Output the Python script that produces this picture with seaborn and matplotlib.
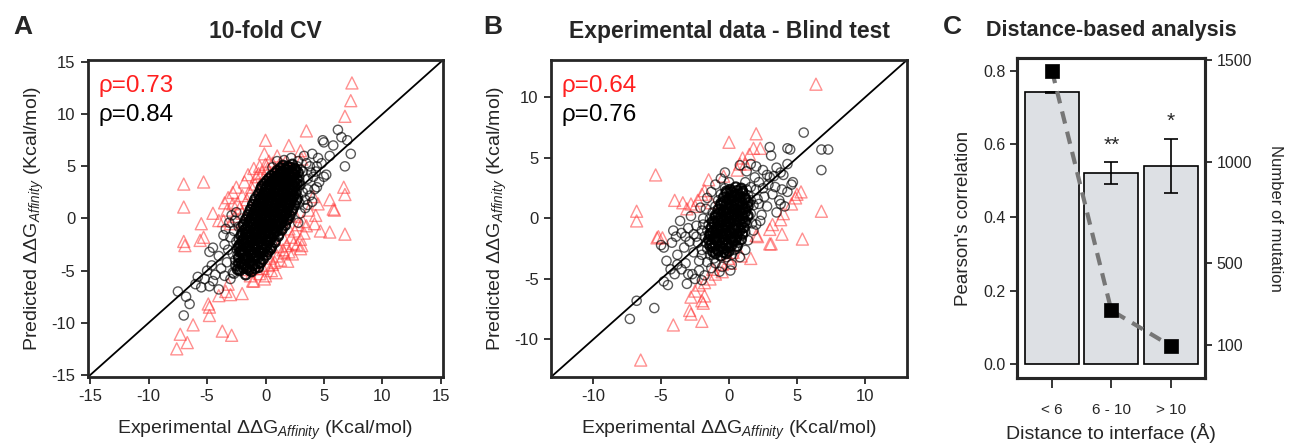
import numpy as np
import pandas as pd
import seaborn as sns
import matplotlib.pyplot as plt

# panel A - 10-fold CV, black = all, red = outliers
a_black = [
    (-7.5, -7.0), (-7.0, -9.3), (-6.5, -8.2), (-6.8, -7.5), (-6.0, -6.3), (-5.5, -6.6), (-5.2, -5.8),
    (-4.8, -6.5), (-4.5, -6.0), (-4.3, -5.4), (-4.0, -6.8), (-5.8, -5.6), (-5.0, -5.0), (-4.6, -4.5),
    (-4.8, -3.2), (-4.5, -2.8), (-4.0, -3.6), (-3.8, -4.8), (-3.5, -5.5), (-3.3, -4.2), (-3.2, -3.0),
    (-3.5, -2.5), (-3.0, -5.8), (-2.8, -5.2), (-2.6, -4.5), (-2.8, -3.4), (-3.0, -1.8), (-2.5, -2.2),
    (-2.7, -1.2), (-2.3, -0.8), (-3.4, -1.0), (-3.1, -0.4), (-2.9, 0.3), (-2.5, 0.6), (-3.6, -1.6),
    (-2.6, -0.2),
    (7.3, 6.2), (7.0, 7.5), (6.8, 5.0), (6.5, 7.8), (6.2, 8.5), (5.8, 7.0), (5.5, 6.0), (5.0, 7.3),
    (4.9, 7.5), (5.2, 4.2), (4.8, 5.3), (4.5, 5.8), (4.3, 4.5), (4.0, 6.2), (3.8, 5.0), (3.6, 3.8),
    (3.5, 5.3), (3.2, 4.5), (3.0, 3.2), (4.6, 3.5), (4.2, 2.8), (3.8, 2.2), (3.4, 1.8), (5.0, 4.0),
    (4.4, 3.0), (2.8, 5.5), (3.3, 6.0), (2.6, 4.8), (3.6, 2.8), (2.9, 1.5), (3.2, 2.5),
    (3.0, 0.5), (3.4, 1.0), (2.8, -0.4), (3.6, 1.3), (4.0, 1.6), (4.1, 4.0), (4.4, 5.0), (3.9, 4.4),
    (1.0, 5.5), (1.6, 5.6), (2.2, 5.8), (0.6, 4.9),
    (-2.7, -5.3), (-2.5, -4.6), (-2.6, -4.0), (-2.4, -3.5), (-2.5, -2.9), (-2.3, -1.9), (-2.1, -0.8),
    (-1.8, -0.4), (-1.6, 0.1), (-1.4, 0.6), (-1.2, 1.1), (-1.0, 1.6), (-0.8, 2.1), (-0.5, 2.6),
    (2.8, 2.0), (2.7, 2.7), (2.9, 3.2), (2.9, 3.6), (2.9, 4.0), (3.0, 4.7), (2.7, 5.0), (2.6, 1.5),
    (2.4, 1.0), (2.2, 0.6), (2.0, 0.0), (1.8, -0.2), (1.5, -0.9), (1.2, -1.5), (0.9, -2.1), (0.6, -2.6),
]
# solid centre of the cloud (hundreds of overlapping circles)
a_core = [
    (-2.2, -5.0), (-1.7, -5.4), (-1.2, -5.1),
    (-2.0, -4.4), (-1.6, -4.8), (-1.1, -4.5), (-0.6, -4.7),
    (-2.1, -4.2), (-1.7, -3.9), (-1.3, -4.1), (-0.9, -3.8), (-0.4, -4.2),
    (-2.0, -3.3), (-1.6, -3.6), (-1.2, -3.4), (-0.8, -3.6), (-0.4, -3.3), (0.1, -3.5),
    (-2.1, -3.1), (-1.7, -2.8), (-1.3, -3.0), (-0.9, -2.8), (-0.5, -3.1), (-0.1, -2.9), (0.4, -3.0),
    (-2.2, -2.5), (-1.8, -2.3), (-1.4, -2.6), (-1.0, -2.4), (-0.6, -2.2), (-0.2, -2.5), (0.2, -2.3),
    (-1.9, -2.0), (-1.5, -1.8), (-1.1, -2.1), (-0.7, -1.9), (-0.3, -1.7), (0.1, -2.0), (0.5, -1.8),
    (-2.0, -1.4), (-1.6, -1.3), (-1.2, -1.5), (-0.8, -1.3), (-0.4, -1.5), (0.0, -1.3), (0.4, -1.4), (0.8, -1.2),
    (-1.7, -1.0), (-1.3, -0.8), (-0.9, -1.0), (-0.5, -0.7), (-0.1, -0.9), (0.3, -0.8), (0.7, -1.0), (1.1, -0.7),
    (-1.4, -0.3), (-1.0, -0.5), (-0.6, -0.3), (-0.2, -0.4), (0.2, -0.2), (0.6, -0.5), (1.0, -0.3), (1.4, -0.4),
    (-1.2, 0.0), (-0.8, 0.2), (-0.4, 0.0), (0.0, 0.1), (0.4, -0.1), (0.8, 0.2), (1.2, 0.0), (1.6, 0.2),
    (-1.0, 0.5), (-0.6, 0.7), (-0.2, 0.5), (0.2, 0.6), (0.6, 0.7), (1.0, 0.5), (1.4, 0.7), (1.8, 0.5),
    (-0.8, 1.0), (-0.4, 1.2), (0.0, 1.0), (0.4, 1.1), (0.8, 1.2), (1.2, 1.0), (1.6, 1.1), (2.0, 1.2),
    (-0.6, 1.5), (-0.2, 1.7), (0.2, 1.5), (0.6, 1.6), (1.0, 1.7), (1.4, 1.5), (1.8, 1.6), (2.2, 1.7),
    (-0.4, 2.0), (0.0, 2.2), (0.4, 2.0), (0.8, 2.1), (1.2, 2.2), (1.6, 2.0), (2.0, 2.1), (2.4, 2.2),
    (-0.1, 2.5), (0.3, 2.7), (0.7, 2.5), (1.1, 2.6), (1.5, 2.7), (1.9, 2.5), (2.3, 2.6),
    (-0.3, 3.1), (0.1, 3.0), (0.5, 3.2), (0.9, 3.0), (1.3, 3.1), (1.7, 3.2), (2.1, 3.0), (2.5, 3.1),
    (0.1, 3.6), (0.5, 3.5), (0.9, 3.7), (1.3, 3.5), (1.7, 3.6), (2.1, 3.7), (2.5, 3.5),
    (0.5, 4.1), (0.9, 4.0), (1.3, 4.2), (1.7, 4.0), (2.1, 4.1), (2.5, 4.2),
    (1.0, 4.6), (1.4, 4.5), (1.8, 4.7), (2.2, 4.5), (2.6, 4.6),
    (1.5, 5.1), (1.9, 5.0), (2.3, 5.2),
    (-2.4, -4.9), (-1.9, -4.75), (-1.4, -4.95), (-0.9, -4.8),
    (-2.3, -4.3), (-1.8, -4.45), (-1.4, -4.25), (-0.9, -4.4), (-0.5, -4.3),
    (-2.3, -3.75), (-1.9, -3.85), (-1.5, -3.7), (-1.1, -3.85), (-0.6, -3.7), (-0.2, -3.9),
    (-2.2, -3.2), (-1.8, -3.3), (-1.4, -3.15), (-1.0, -3.3), (-0.6, -3.2), (-0.2, -3.25), (0.2, -3.2),
    (-2.3, -2.7), (-1.9, -2.65), (-1.5, -2.8), (-1.1, -2.7), (-0.7, -2.6), (-0.3, -2.75), (0.1, -2.65), (0.5, -2.8),
    (-2.0, -2.2), (-1.6, -2.1), (-1.2, -2.25), (-0.8, -2.1), (-0.4, -2.2), (0.0, -2.15), (0.4, -2.1), (0.8, -2.3),
    (-2.1, -1.65), (-1.7, -1.6), (-1.3, -1.7), (-0.9, -1.6), (-0.5, -1.7), (-0.1, -1.55), (0.3, -1.7), (0.7, -1.6), (1.1, -1.7),
    (-1.8, -1.1), (-1.4, -1.2), (-1.0, -1.1), (-0.6, -1.2), (-0.2, -1.1), (0.2, -1.15), (0.6, -1.1), (1.0, -1.2), (1.4, -1.1),
    (-1.9, -0.6), (-1.5, -0.65), (-1.1, -0.55), (-0.7, -0.65), (-0.3, -0.6), (0.1, -0.55), (0.5, -0.65), (0.9, -0.6), (1.3, -0.55), (1.7, -0.65),
    (-1.7, -0.1), (-1.3, -0.15), (-0.9, -0.05), (-0.5, -0.15), (-0.1, -0.1), (0.3, 0.05), (0.7, -0.1), (1.1, -0.15), (1.5, -0.05), (1.9, -0.1),
    (-1.5, 0.35), (-1.1, 0.3), (-0.7, 0.4), (-0.3, 0.3), (0.1, 0.35), (0.5, 0.4), (0.9, 0.3), (1.3, 0.35), (1.7, 0.4), (2.1, 0.3),
    (-1.3, 0.85), (-0.9, 0.8), (-0.5, 0.9), (-0.1, 0.8), (0.3, 0.85), (0.7, 0.9), (1.1, 0.8), (1.5, 0.85), (1.9, 0.9), (2.3, 0.8),
    (-1.1, 1.35), (-0.7, 1.3), (-0.3, 1.4), (0.1, 1.3), (0.5, 1.35), (0.9, 1.4), (1.3, 1.3), (1.7, 1.35), (2.1, 1.4), (2.5, 1.3),
    (-0.9, 1.85), (-0.5, 1.8), (-0.1, 1.9), (0.3, 1.8), (0.7, 1.85), (1.1, 1.9), (1.5, 1.8), (1.9, 1.85), (2.3, 1.9), (2.7, 1.8),
    (-0.6, 2.35), (-0.2, 2.3), (0.2, 2.4), (0.6, 2.3), (1.0, 2.35), (1.4, 2.4), (1.8, 2.3), (2.2, 2.35), (2.6, 2.4),
    (-0.4, 2.85), (0.0, 2.8), (0.4, 2.9), (0.8, 2.8), (1.2, 2.85), (1.6, 2.9), (2.0, 2.8), (2.4, 2.85),
    (-0.1, 3.35), (0.3, 3.3), (0.7, 3.4), (1.1, 3.3), (1.5, 3.35), (1.9, 3.4), (2.3, 3.3), (2.7, 3.35),
    (0.3, 3.85), (0.7, 3.8), (1.1, 3.9), (1.5, 3.8), (1.9, 3.85), (2.3, 3.9), (2.7, 3.8),
    (0.8, 4.35), (1.2, 4.3), (1.6, 4.4), (2.0, 4.3), (2.4, 4.35), (2.8, 4.4),
    (1.3, 4.85), (1.7, 4.8), (2.1, 4.9), (2.5, 4.8),
]
a_red = [
    (7.4, 13.0), (7.3, 11.3), (6.8, 9.8), (3.5, 8.4), (0.0, 7.5), (2.0, 7.0), (3.0, 6.5), (-0.1, 6.2),
    (1.0, 6.0), (1.7, 5.4), (3.1, 5.7), (-7.0, 3.3), (-5.3, 3.5), (-7.0, 1.1), (-4.5, 0.5), (-5.5, -0.5),
    (-7.0, -2.2), (-6.9, -2.6), (-5.6, -2.1), (-5.3, -1.8), (-4.0, -0.2), (6.7, 3.0), (6.8, 2.3), (5.5, 1.8),
    (5.8, 0.9), (5.9, 0.8), (4.1, 2.1), (4.5, 1.4), (4.3, 0.3), (3.7, 0.8), (4.2, -0.5), (3.5, -0.7),
    (4.7, -1.2), (5.5, -1.3), (6.8, -1.5), (3.0, -2.0), (3.1, -2.6), (3.0, -2.9), (2.4, -2.4), (2.0, -3.2),
    (1.5, -3.0), (-1.0, -6.0), (-2.0, -7.2), (-3.2, -6.3), (-3.4, -7.0), (-3.0, -7.3), (-4.0, -7.4),
    (-4.8, -8.5), (-4.9, -8.2), (-4.8, -9.3), (-6.2, -10.2), (-7.3, -11.1), (-7.6, -12.5), (-6.7, -11.9),
    (-3.7, -10.8), (-2.9, -11.2), (-1.1, -6.0),
    (-3.5, 1.5), (-3.2, 2.0), (-2.8, 2.5), (-2.5, 3.0), (-2.2, 1.0), (-2.0, 2.2), (-1.8, 3.5), (-1.5, 4.2),
    (-1.2, 3.0), (-1.0, 4.8), (-0.8, 4.0), (-0.5, 5.0), (-0.3, 4.4), (0.0, 5.2), (0.3, 5.5), (0.6, 5.3),
    (-1.6, 1.8), (-2.6, 0.2), (-3.0, -0.5), (-2.4, 1.5), (-1.3, 2.4), (-0.9, 3.3), (-0.6, 4.3), (0.2, 4.8),
    (-2.0, 0.5), (-3.3, 0.8), (-1.9, -0.3), (-0.2, 3.8), (0.8, 4.6), (1.2, 5.2), (2.0, 5.0), (1.5, 4.8),
    (2.3, 4.8), (-2.8, 1.4), (-3.6, -0.2),
    (-0.5, -5.3), (-0.2, -4.8), (0.2, -4.5), (0.5, -5.0), (0.8, -4.2), (1.0, -3.6), (1.3, -4.0), (1.6, -3.3),
    (0.0, -5.5), (0.4, -3.8), (1.8, -2.6), (2.2, -1.8), (2.5, -1.2), (2.8, -0.6), (2.0, -1.0), (1.6, -2.0),
    (2.6, 0.2), (3.2, -0.3), (2.3, -3.4), (0.9, -5.2), (-0.1, -5.8), (1.1, -2.7), (1.9, -4.1), (2.7, -2.5),
    (3.3, -1.4), (2.1, 0.3), (-1.3, -5.5), (-0.8, -4.8), (-1.5, -4.9), (0.6, -4.4),
]

# panel B - blind test
b_black = [
    (-7.3, -8.3), (-6.8, -6.8), (-5.5, -7.4), (-4.5, -5.5), (-4.8, -5.2), (-4.0, -4.6), (-4.6, -3.5),
    (-5.0, -2.2), (-4.8, -2.4), (-4.2, -2.0), (-3.8, -3.0), (-3.5, -4.2), (-3.2, -3.7), (-3.0, -4.6),
    (-2.7, -4.6), (-2.5, -5.0), (-2.2, -4.3), (-3.9, -1.5), (-3.5, -1.2), (-3.3, -2.4), (-2.9, -1.9),
    (-2.6, -2.8), (-2.0, -5.1), (-1.8, -4.7), (-4.1, -1.0), (-3.6, -0.2), (-2.8, 0.2), (-2.4, -0.6),
    (-2.1, 0.9), (-1.6, 1.7), (-1.3, 2.2), (-1.0, 2.8), (-0.6, 3.3), (-0.3, 3.8),
    (-2.0, -3.0), (-2.3, -2.0), (-2.0, -1.0), (-1.9, 0.0), (-1.7, 0.8), (-2.6, -1.3), (-3.0, -0.8),
    (-3.2, -1.5), (-2.2, -3.5), (-1.6, -3.6), (-1.1, -3.3), (-2.4, -1.5), (-3.8, -3.8), (-4.3, -4.2),
    (-3.1, -5.4), (-2.0, -2.6), (-1.9, -0.5),
    (7.3, 5.7), (6.8, 5.7), (6.8, 4.0), (5.5, 7.1), (4.5, 5.7), (4.3, 5.8), (3.0, 5.9), (3.1, 5.2),
    (4.6, 2.8), (4.7, 3.0), (3.5, 4.2), (3.8, 3.8), (4.0, 3.6), (3.3, 3.5), (2.9, 2.8), (3.2, 2.0),
    (3.7, 1.5), (4.1, 1.0), (3.5, 0.5), (2.5, 4.0), (2.2, 3.0), (2.0, 2.4), (2.6, 1.8), (2.8, 1.0),
    (2.4, 0.3), (2.0, -0.5), (1.8, -1.0), (1.4, -1.8), (1.2, -2.6), (0.8, -3.2), (0.5, -2.5), (1.6, 4.5),
    (2.0, 4.3), (1.3, 3.9), (0.8, 4.4), (4.3, 4.5), (3.8, 1.2), (3.0, 3.4), (-0.5, -4.0), (-1.0, -3.7),
    (-0.2, -3.2), (0.2, -3.8), (-1.3, -4.1), (-0.7, -4.4), (0.1, -4.3),
    (2.2, 1.2), (2.5, 2.5), (2.8, 3.6), (3.4, 2.6), (1.9, 3.4), (2.3, -0.2), (1.7, -0.4), (1.6, 2.6),
    (2.1, 1.6), (4.3, 2.2), (3.9, 2.4),
    (-1.4, -3.0), (0.2, -3.0), (-1.6, -2.5), (0.4, -2.6), (-1.7, -2.0), (0.7, -2.0), (-1.8, -1.5),
    (1.0, -1.4), (1.2, -1.1), (1.3, -0.4), (1.4, 0.1), (1.6, 0.4), (1.8, 1.1), (1.6, 1.5), (1.4, 1.9),
    (1.3, 2.4), (1.2, 3.0), (0.0, 3.0), (-0.3, 2.5), (-0.6, 2.0), (-0.8, 1.5), (-1.0, 1.0), (-1.2, 0.5),
    (-1.4, 0.0), (-1.5, -0.5), (-1.6, -1.0),
]
b_core = [
    (-1.0, -2.9), (-0.6, -3.1), (-0.2, -2.9),
    (-1.2, -2.4), (-0.8, -2.6), (-0.4, -2.5), (0.0, -2.4),
    (-1.3, -2.1), (-0.9, -1.9), (-0.5, -2.0), (-0.1, -2.1), (0.3, -1.9),
    (-1.4, -1.4), (-1.0, -1.6), (-0.6, -1.5), (-0.2, -1.4), (0.2, -1.6), (0.6, -1.5),
    (-1.2, -1.1), (-0.8, -0.9), (-0.4, -1.0), (0.0, -1.1), (0.4, -0.9), (0.8, -1.0),
    (-1.1, -0.4), (-0.7, -0.6), (-0.3, -0.5), (0.1, -0.4), (0.5, -0.6), (0.9, -0.5),
    (-1.0, 0.1), (-0.6, -0.1), (-0.2, 0.0), (0.2, 0.1), (0.6, -0.1), (1.0, 0.0),
    (-0.8, 0.4), (-0.4, 0.6), (0.0, 0.5), (0.4, 0.4), (0.8, 0.6), (1.2, 0.5),
    (-0.6, 1.1), (-0.2, 0.9), (0.2, 1.0), (0.6, 1.1), (1.0, 0.9), (1.4, 1.0),
    (-0.4, 1.4), (0.0, 1.6), (0.4, 1.5), (0.8, 1.4), (1.2, 1.6),
    (-0.2, 2.1), (0.2, 1.9), (0.6, 2.0), (1.0, 2.1),
    (0.1, 2.4), (0.5, 2.6), (0.9, 2.5),
    (-1.2, -2.75), (-0.8, -2.7), (-0.4, -2.8), (0.0, -2.7),
    (-1.4, -2.25), (-1.0, -2.2), (-0.6, -2.3), (-0.2, -2.25), (0.2, -2.2), (0.6, -2.3),
    (-1.5, -1.75), (-1.1, -1.7), (-0.7, -1.8), (-0.3, -1.75), (0.1, -1.7), (0.5, -1.8), (0.9, -1.75),
    (-1.4, -1.25), (-1.0, -1.2), (-0.6, -1.3), (-0.2, -1.25), (0.2, -1.2), (0.6, -1.3), (1.0, -1.25),
    (-1.3, -0.75), (-0.9, -0.7), (-0.5, -0.8), (-0.1, -0.75), (0.3, -0.7), (0.7, -0.8), (1.1, -0.75),
    (-1.2, -0.25), (-0.8, -0.2), (-0.4, -0.3), (0.0, -0.25), (0.4, -0.2), (0.8, -0.3), (1.2, -0.25),
    (-1.0, 0.25), (-0.6, 0.2), (-0.2, 0.3), (0.2, 0.25), (0.6, 0.2), (1.0, 0.3), (1.4, 0.25),
    (-0.8, 0.75), (-0.4, 0.7), (0.0, 0.8), (0.4, 0.75), (0.8, 0.7), (1.2, 0.8),
    (-0.6, 1.25), (-0.2, 1.2), (0.2, 1.3), (0.6, 1.25), (1.0, 1.2), (1.4, 1.3),
    (-0.4, 1.75), (0.0, 1.7), (0.4, 1.8), (0.8, 1.75), (1.2, 1.7),
    (-0.2, 2.25), (0.2, 2.2), (0.6, 2.3), (1.0, 2.25),
]
b_red = [
    (6.4, 11.1), (-5.4, 3.6), (-6.8, 0.6), (-6.8, -0.2), (-5.2, -1.5), (-4.9, -1.6), (-5.3, -1.6),
    (-4.0, 1.5), (-3.4, 1.3), (-3.1, 0.8), (-2.8, 1.2), (-2.3, 1.5), (-2.0, 2.0), (-1.5, 3.2), (-1.8, 2.3),
    (-1.3, 1.3), (-0.4, 3.5), (0.0, 6.3), (1.0, 5.0), (0.8, 4.5), (0.6, 4.0), (1.2, 4.5), (1.5, 5.3),
    (2.0, 7.0), (2.3, 5.8), (1.8, 5.8), (-2.5, 1.0), (6.8, 0.6), (5.4, -1.7), (5.0, 2.0), (4.9, 1.7),
    (5.3, 2.2), (4.6, 1.2), (4.0, 0.4), (3.8, -0.1), (3.2, -0.5), (3.0, -0.9), (3.9, -1.3), (2.0, -1.4),
    (2.1, -1.5), (3.0, -2.1), (3.1, -2.1), (1.6, -3.3), (0.9, -3.1), (0.0, -3.3), (0.1, -3.7), (-0.5, -4.4),
    (-1.0, -4.6), (-1.4, -5.0), (-1.8, -5.3), (-2.2, -5.5), (-2.8, -6.5), (-1.8, -6.4), (-2.0, -6.8),
    (-1.9, -7.0), (-2.9, -7.6), (-2.8, -7.9), (-2.0, -8.5), (-4.1, -8.8), (-6.5, -11.7), (-0.5, -3.8),
    (0.3, -2.8), (-1.2, -4.2), (-2.5, -6.0),
]
a_rho = ['ρ=0.73', 'ρ=0.84']
b_rho = ['ρ=0.64', 'ρ=0.76']

# panel C - distance based analysis
dist_cats = ['< 6', '6 - 10', '> 10']
pearson = [0.741, 0.521, 0.541]
pearson_err = [0.002, 0.029, 0.074]
signif = ['', '**', '*']
n_mutation = [1446, 269, 95]

sns.set_style('ticks')
plt.rcParams['font.family'] = ['Liberation Sans', 'DejaVu Sans']
plt.rcParams['mathtext.fontset'] = 'custom'
plt.rcParams['mathtext.rm'] = 'Liberation Sans'
plt.rcParams['mathtext.it'] = 'Liberation Sans:italic'
plt.rcParams['axes.unicode_minus'] = False

RED = '#ff3535'
fig = plt.figure(figsize=(12.92, 4.48), dpi=100)
axA = fig.add_axes([0.0681, 0.1585, 0.2748, 0.7076])
axB = fig.add_axes([0.4265, 0.1585, 0.2755, 0.7076])
axC = fig.add_axes([0.7872, 0.1563, 0.1455, 0.7143])

xlab = 'Experimental ΔΔG$_{Affinity}$ (Kcal/mol)'
ylab = 'Predicted ΔΔG$_{Affinity}$ (Kcal/mol)'


def scatter_panel(ax, black, core, red, rho, lim, ticks, title):
    red_df = pd.DataFrame(red, columns=['exp', 'pred'])
    blk_df = pd.DataFrame(black, columns=['exp', 'pred'])
    core_df = pd.DataFrame(core, columns=['exp', 'pred'])
    sns.scatterplot(data=red_df, x='exp', y='pred', ax=ax, marker='^', s=75,
                    facecolor='none', edgecolor=RED, linewidth=1.0, alpha=0.55)
    sns.scatterplot(data=blk_df, x='exp', y='pred', ax=ax, marker='o', s=44,
                    facecolor='none', edgecolor='black', linewidth=1.0, alpha=0.65)
    sns.scatterplot(data=core_df, x='exp', y='pred', ax=ax, marker='o', s=44,
                    facecolor='none', edgecolor='black', linewidth=1.6, alpha=0.9)
    ax.plot(lim, lim, color='black', lw=1.3)
    ax.set_xlim(lim)
    ax.set_ylim(lim)
    ax.set_xticks(ticks)
    ax.set_yticks(ticks)
    ax.set_xlabel(xlab, fontsize=14, labelpad=10)
    ax.set_ylabel(ylab, fontsize=14, labelpad=4)
    ax.tick_params(labelsize=12, width=1.3, length=5, pad=4)
    for sp in ax.spines.values():
        sp.set_visible(True)
        sp.set_linewidth(2)
    ax.text(0.03, 0.918, rho[0], color='#ff2020', fontsize=17.5, transform=ax.transAxes, va='center')
    ax.text(0.03, 0.826, rho[1], color='black', fontsize=17.5, transform=ax.transAxes, va='center')
    ax.set_title(title, fontsize=16.5, fontweight='bold', pad=16)


scatter_panel(axA, a_black, a_core, a_red, a_rho, (-15.2, 15.2), [-15, -10, -5, 0, 5, 10, 15], '10-fold CV')
scatter_panel(axB, b_black, b_core, b_red, b_rho, (-13.1, 13.1), [-10, -5, 0, 5, 10],
              'Experimental data - Blind test')

# panel C
cdf = pd.DataFrame({'dist': dist_cats, 'r': pearson})
sns.barplot(data=cdf, x='dist', y='r', ax=axC, color='#dde0e4', edgecolor='black',
            linewidth=1.2, width=0.91, saturation=1)
axC.errorbar(range(len(dist_cats)), pearson, yerr=pearson_err, fmt='none',
             ecolor='black', elinewidth=1.2, capsize=5, capthick=1.2)
for i, s in enumerate(signif):
    if s:
        axC.text(i, pearson[i] + pearson_err[i] + 0.02, s, ha='center', va='bottom', fontsize=15)
axC.set_xlim(-0.59, 2.58)
axC.set_ylim(-0.038, 0.835)
axC.set_yticks([0.0, 0.2, 0.4, 0.6, 0.8])
axC.set_yticklabels(['0.0', '0.2', '0.4', '0.6', '0.8'])
axC.set_xlabel('Distance to interface (Å)', fontsize=14, labelpad=4)
axC.set_ylabel("Pearson's correlation", fontsize=13.5, labelpad=8)
axC.tick_params(axis='y', labelsize=11.5, width=1.3, length=5)
axC.tick_params(axis='x', labelsize=11, width=1.3, length=7, pad=11)
axC.set_title('Distance-based analysis', fontsize=15.5, fontweight='bold', pad=16)

axC2 = axC.twinx()
mdf = pd.DataFrame({'pos': range(len(dist_cats)), 'n': n_mutation})
sns.lineplot(data=mdf, x='pos', y='n', ax=axC2, color='#767676', lw=3, dashes=False,
             linestyle=(0, (3, 2)))
sns.scatterplot(data=mdf, x='pos', y='n', ax=axC2, marker='s', s=90, color='black',
                edgecolor='black', linewidth=0.5, zorder=5)
axC2.set_ylim(-63, 1510)
axC2.set_yticks([100, 500, 1000, 1500])
axC2.set_ylabel('Number of mutation', fontsize=12, rotation=270, labelpad=22)
axC2.tick_params(axis='y', labelsize=11.5, width=1.3, length=5)
axC2.set_xlabel('')
for ax in (axC, axC2):
    for sp in ax.spines.values():
        sp.set_visible(True)
        sp.set_linewidth(2.2)

for x, lab in [(0.01, 'A'), (0.374, 'B'), (0.73, 'C')]:
    fig.text(x, 0.94, lab, fontsize=19, fontweight='bold', va='center')

plt.savefig('out.png', dpi=100)
